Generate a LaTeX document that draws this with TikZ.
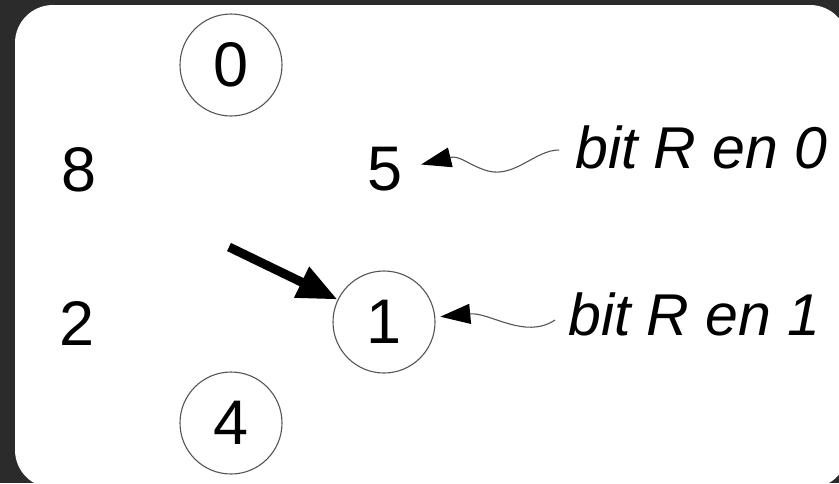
\documentclass[tikz,border=0pt]{standalone}
\usepackage{fontspec}
\setmainfont{Liberation Sans}
\usetikzlibrary{arrows.meta,calc}
\definecolor{slate}{HTML}{2B2B2B}
\definecolor{rim}{HTML}{555555}
\tikzset{
  state/.style={circle,draw=rim,line width=1.1pt,minimum size=102pt,inner sep=0pt,
    font=\fontsize{63}{63}\selectfont},
  plain/.style={inner sep=0pt,font=\fontsize{63}{63}\selectfont},
  note/.style={inner sep=0pt,anchor=base west,font=\fontsize{59}{59}\selectfont\itshape},
  pointer/.style={draw=rim,line width=1.1pt,
    -{Triangle[length=30pt,width=20pt,color=black,fill=black]}},
  bigarrow/.style={draw=black,line width=9pt,
    -{Triangle[length=40pt,width=32pt]}}
}
\begin{document}
\begin{tikzpicture}[x=1pt,y=-1pt]
  \useasboundingbox (0,0) rectangle (839,483);
  \fill[slate] (0,0) rectangle (839,483);
  \fill[white,rounded corners=38pt] (15,5) rectangle (848,488);

  % states
  \node[state] (c0) at (231,65) {0};
  \node[state] (c1) at (384,322) {1};
  \node[state] (c4) at (231,423) {4};

  % loose values
  \node[plain] (n8) at (79,170) {8};
  \node[plain] (n5) at (385,169) {5};
  \node[plain] (n2) at (77,323) {2};

  % annotations
  \node[note] (t0) at (575,168) {bit R en 0};
  \node[note] (t1) at (568,335) {bit R en 1};
  \coordinate (s0) at (559,150);
  \coordinate (s1) at (555,320);
  \coordinate (b0) at (229,247);

  \draw[pointer,shorten >=19pt] (s0) .. controls (535,150) and (515,178) .. (488,171)
        .. controls (470,166) and (460,155) .. (n5.east);
  \draw[pointer,shorten >=5pt] (s1) .. controls (525,340) and (490,312) .. (c1);

  % start marker
  \draw[bigarrow] (b0) -- (c1);
\end{tikzpicture}
\end{document}
